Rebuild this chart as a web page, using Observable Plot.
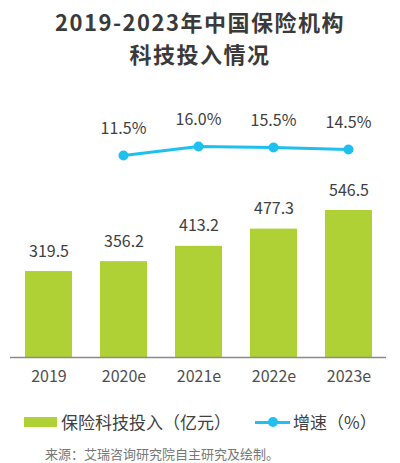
<!DOCTYPE html>
<html><head><meta charset="utf-8">
<script src="https://cdn.jsdelivr.net/npm/d3@7"></script>
<script src="https://cdn.jsdelivr.net/npm/@observablehq/plot@0.6"></script>
<style>
body{margin:0;background:#fff;}
#wrap{position:relative;width:400px;height:463px;font-family:"Noto Sans CJK SC","Noto Sans",sans-serif;overflow:hidden;}
.tl{position:absolute;left:0;width:400px;text-align:center;font-size:22px;font-weight:bold;line-height:32px;letter-spacing:1.5px;color:#3a3a3a;white-space:nowrap;}
.plot{position:absolute;left:0;top:72px;}
#legend{position:absolute;left:0;top:410px;width:400px;height:24px;font-size:17px;color:#404040;}
#source{position:absolute;left:45px;top:445px;font-size:13px;color:#777;line-height:18px;}
</style></head>
<body><div id="wrap">
<div class="tl" style="top:5px">2019-2023年中国保险机构</div>
<div class="tl" style="top:37px">科技投入情况</div>
<div id="bars" class="plot"></div>
<div id="line" class="plot"></div>
<div id="legend"></div>
<div id="source">来源：艾瑞咨询研究院自主研究及绘制。</div>
</div>
<script>
const years = ["2019","2020e","2021e","2022e","2023e"];
const investment = [319.5,356.2,413.2,477.3,546.5];
const growthYears = ["2020e","2021e","2022e","2023e"];
const growth = [11.5,16.0,15.5,14.5];
const legendLabels = ["保险科技投入（亿元）","增速（%）"];

const green = "#b0d136", blue = "#1fc0ef";
const barData = years.map((y,i)=>({year:y,value:investment[i]}));
const lineData = growthYears.map((y,i)=>({year:y,g:growth[i]}));
const font = '"Noto Sans CJK SC","Noto Sans",sans-serif';
const common = {width:400,height:320,marginLeft:10,marginRight:14,marginTop:0,marginBottom:35};
const xOpt = {domain:years,paddingInner:0.375,paddingOuter:0.1875,label:null};

const p1 = Plot.plot({
  ...common,
  style:{fontFamily:font,background:"transparent",overflow:"visible"},
  x:xOpt,
  y:{domain:[0,1059.5],axis:null},
  marks:[
    Plot.barY(barData,{x:"year",y:"value",fill:green}),
    Plot.ruleY([0],{stroke:"#8a8a8a",strokeWidth:1.5}),
    Plot.text(barData,{x:"year",y:"value",text:d=>d.value.toFixed(1),dy:-20,fontSize:16,fill:"#404040"}),
    Plot.axisX({tickSize:0,tickPadding:13,fontSize:16,fill:"#505050",label:null})
  ]
});
document.getElementById("bars").append(p1);

const p2 = Plot.plot({
  ...common,
  style:{fontFamily:font,background:"transparent",overflow:"visible"},
  x:{...xOpt,axis:null},
  y:{domain:[-89.5,53],axis:null},
  marks:[
    Plot.lineY(lineData,{x:"year",y:"g",stroke:blue,strokeWidth:3}),
    Plot.dot(lineData,{x:"year",y:"g",r:5,fill:blue}),
    Plot.text(lineData,{x:"year",y:"g",text:d=>d.g.toFixed(1)+"%",dy:-27,fontSize:16,fill:"#404040"})
  ]
});
document.getElementById("line").append(p2);

const lg = document.getElementById("legend");
lg.innerHTML =
 `<div style="position:absolute;left:24px;top:7px;width:33px;height:10px;background:${green}"></div>
  <div style="position:absolute;left:61px;top:0;line-height:24px;">${legendLabels[0]}</div>
  <div style="position:absolute;left:255px;top:10.5px;width:35px;height:3px;background:${blue}"></div>
  <div style="position:absolute;left:268px;top:7px;width:10px;height:10px;border-radius:5px;background:${blue}"></div>
  <div style="position:absolute;left:293px;top:0;line-height:24px;">${legendLabels[1]}</div>`;
</script>
</body></html>
